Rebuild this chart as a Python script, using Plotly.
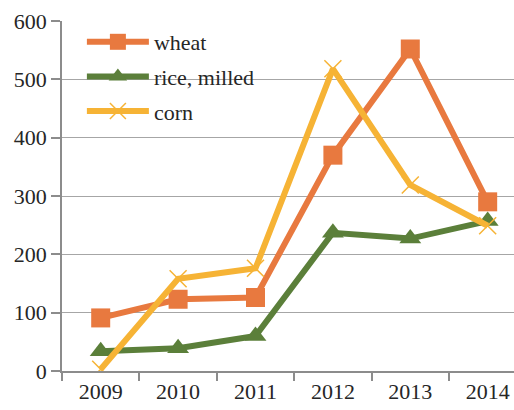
import plotly.graph_objects as go

years = ["2009", "2010", "2011", "2012", "2013", "2014"]
wheat = [91, 123, 126, 370, 552, 290]
rice = [34, 39, 60, 237, 227, 257]
corn = [3, 158, 176, 518, 319, 249]
y_ticks = [0, 100, 200, 300, 400, 500, 600]

series = [
    ("wheat", wheat, "#E8793F", dict(symbol="square", size=19)),
    ("rice, milled", rice, "#5B7F3A", dict(symbol="triangle-up", size=19)),
    ("corn", corn, "#F6B335", dict(symbol="x-thin", size=17, line=dict(width=1.5, color="#F6B335"))),
]

fig = go.Figure()
for i, (name, vals, color, mk) in enumerate(series):
    fig.add_trace(go.Scatter(
        x=years, y=vals, name=name, mode="lines+markers",
        line=dict(color=color, width=6),
        marker=dict(color=color, **mk),
        legendgroup=str(i),
    ))

font = dict(family="Liberation Serif", size=22, color="#262626")
fig.update_layout(
    width=514, height=410,
    margin=dict(l=62, r=0, t=21, b=39),
    paper_bgcolor="white", plot_bgcolor="white",
    font=font,
    showlegend=True,
    legend=dict(x=0.044, y=1.0, xanchor="left", yanchor="top",
                bgcolor="rgba(0,0,0,0)", font=font, tracegroupgap=3,
                itemwidth=62),
    xaxis=dict(type="category", range=[-0.5, 5.34], tickson="boundaries",
               ticks="outside", ticklen=8, tickcolor="#8c8c8c", tickwidth=1.5,
               showline=True, linecolor="#8c8c8c", linewidth=1.5,
               showgrid=False, tickfont=font),
    yaxis=dict(range=[0, 600], tickvals=y_ticks, ticks="outside", ticklen=9,
               tickcolor="#8c8c8c", tickwidth=1.5,
               showline=True, linecolor="#8c8c8c", linewidth=1.5,
               showgrid=True, gridcolor="#a6a6a6", gridwidth=1.2,
               zeroline=False, tickfont=font),
)
fig.write_html(
    "out.html",
    config={"displayModeBar": False},
    post_script="document.body.style.margin='0';document.body.style.overflow='hidden';",
)
